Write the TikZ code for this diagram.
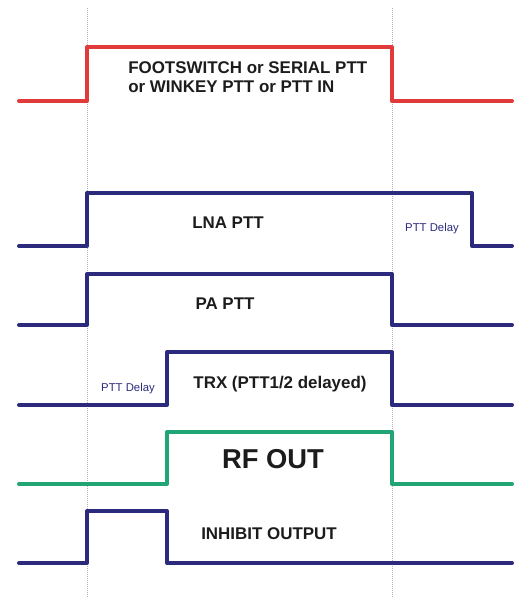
\documentclass[tikz,border=0pt]{standalone}
\usepackage{fontspec}
\setmainfont{Liberation Sans}
\definecolor{sigred}{HTML}{E03A3A}
\definecolor{signavy}{HTML}{2B2A7C}
\definecolor{siggreen}{HTML}{22A574}
\definecolor{txt}{HTML}{1C1C1C}
\begin{document}
\begin{tikzpicture}[x=0.75pt,y=-0.75pt,
  wave/.style={line width=3pt,line cap=round,line join=round},
  guide/.style={gray!60,line width=0.5pt,densely dotted},
  lbl/.style={inner sep=0pt,anchor=base,text=txt,font=\bfseries\fontsize{12.7}{13.5}\selectfont},
  small/.style={inner sep=0pt,anchor=base,text=signavy,font=\fontsize{8.5}{10}\selectfont}]
\useasboundingbox (0,0) rectangle (517,598);
% guide lines
\coordinate (g1t) at (87,8); \coordinate (g1b) at (87,598);
\coordinate (g2t) at (392,8); \coordinate (g2b) at (392,598);
\draw[guide] (g1t) -- (g1b);
\draw[guide] (g2t) -- (g2b);
% footswitch
\draw[wave,sigred] (19,101) -- (87,101) -- (87,47) -- (392,47) -- (392,101) -- (512,101);
\node[lbl,anchor=base west] (fs1) at (128,74) {FOOTSWITCH or SERIAL PTT};
\node[lbl,anchor=base west] (fs2) at (128,92.5) {or WINKEY PTT or PTT IN};
% LNA
\draw[wave,signavy] (19,246) -- (87,246) -- (87,193) -- (472,193) -- (472,246) -- (512,246);
\node[lbl] (lna) at (228,228.7) {LNA PTT};
\node[small] (d1) at (432,232) {PTT Delay};
% PA
\draw[wave,signavy] (19,325) -- (87,325) -- (87,274) -- (392,274) -- (392,325) -- (512,325);
\node[lbl] (pa) at (225,309) {PA PTT};
% TRX
\draw[wave,signavy] (19,405) -- (167,405) -- (167,352) -- (392,352) -- (392,405) -- (512,405);
\node[lbl] (trx) at (280,388.7) {TRX (PTT1/2 delayed)};
\node[small] (d2) at (128,391) {PTT Delay};
% RF OUT
\draw[wave,siggreen] (19,484) -- (167,484) -- (167,432) -- (392,432) -- (392,484) -- (512,484);
\node[lbl,font=\bfseries\fontsize{20.5}{22}\selectfont] (rf) at (273,468.5) {RF OUT};
% inhibit
\draw[wave,signavy] (19,563) -- (87,563) -- (87,511) -- (167,511) -- (167,563) -- (512,563);
\node[lbl] (inh) at (269,539) {INHIBIT OUTPUT};
\end{tikzpicture}
\end{document}
